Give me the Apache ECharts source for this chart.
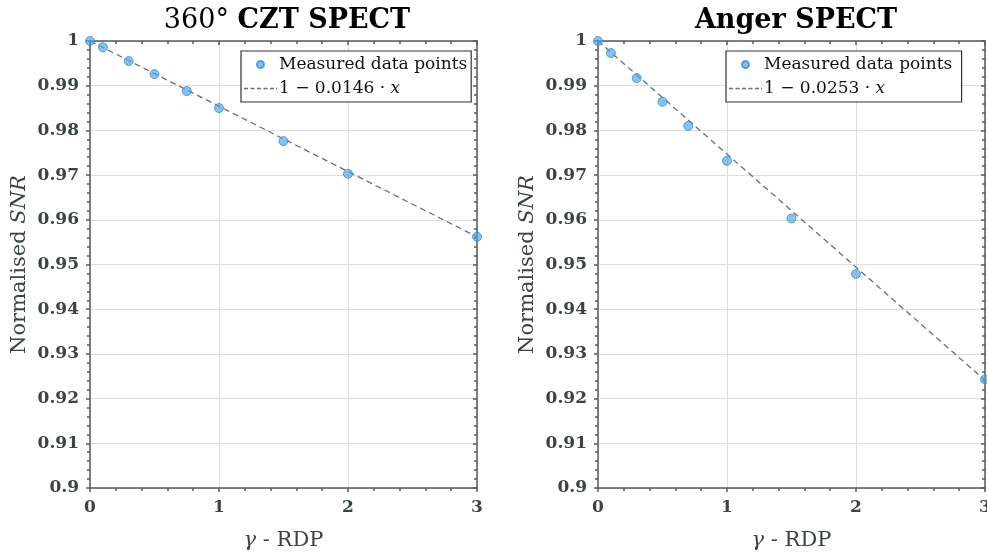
<!DOCTYPE html>
<html><head><meta charset="utf-8">
<script src="https://cdn.jsdelivr.net/npm/echarts@6/dist/echarts.min.js"></script>
<style>html,body{margin:0;padding:0;background:#fff}#c{width:987px;height:558px}</style>
</head><body><div id="c"></div>
<script>
var czt_x = [0, 0.1, 0.3, 0.5, 0.75, 1, 1.5, 2, 3];
var czt_y = [1.0, 0.9986, 0.9955, 0.9926, 0.9888, 0.9850, 0.9776, 0.9703, 0.9562];
var czt_slope = 0.0146;
var anger_x = [0, 0.1, 0.3, 0.5, 0.7, 1, 1.5, 2, 3];
var anger_y = [1.0, 0.9973, 0.9917, 0.9864, 0.9810, 0.9732, 0.9603, 0.9479, 0.9243];
var anger_slope = 0.0253;
var xTicks = [0, 1, 2, 3];
var yTicks = [0.9, 0.91, 0.92, 0.93, 0.94, 0.95, 0.96, 0.97, 0.98, 0.99, 1];

var FONT = 'DejaVu Serif';
var TXT = '#3b4343';
var AX = '#555a5a';
var grids = [
  {left: 90, width: 387, top: 41, bottom: 70, outerBoundsMode: 'none', containLabel: false},
  {left: 598, width: 387, top: 41, bottom: 70, outerBoundsMode: 'none', containLabel: false}
];
function fmtY(v){ return String(+v.toFixed(2)); }
function xAxisDef(gi, pos, main){
  return {
    type: 'value', gridIndex: gi, position: pos, min: 0, max: 3, interval: 1,
    name: main ? '{g|γ} - RDP' : '', nameLocation: 'middle', nameGap: 42,
    nameTextStyle: {fontFamily: FONT, fontSize: 21, color: TXT, rich: {g: {fontFamily: FONT, fontSize: 21, fontStyle: 'italic', color: TXT}}},
    axisLine: {show: true, onZero: false, lineStyle: {color: AX, width: 1.5}},
    axisTick: {show: true, length: 4, inside: !main, lineStyle: {color: AX, width: 1.5}},
    minorTick: {show: true, splitNumber: 5, length: 3, lineStyle: {color: AX, width: 1.5}},
    axisLabel: {show: main, fontFamily: FONT, fontWeight: 'bold', fontSize: 17, color: TXT, margin: 11,
      formatter: function(v){ return xTicks.indexOf(v) >= 0 ? String(v) : ''; }},
    splitLine: {show: main, lineStyle: {color: '#dedede', width: 1}},
    minorSplitLine: {show: false}
  };
}
function yAxisDef(gi, pos, main){
  return {
    type: 'value', gridIndex: gi, position: pos, min: 0.9, max: 1, interval: 0.01,
    name: main ? 'Normalised {i|SNR}' : '', nameLocation: 'middle', nameGap: 60,
    nameTextStyle: {fontFamily: FONT, fontSize: 21, color: TXT, rich: {i: {fontFamily: FONT, fontSize: 21, fontStyle: 'italic', color: TXT}}},
    axisLine: {show: true, onZero: false, lineStyle: {color: AX, width: 1.5}},
    axisTick: {show: true, length: 4, inside: !main, lineStyle: {color: AX, width: 1.5}},
    minorTick: {show: true, splitNumber: 5, length: 3, lineStyle: {color: AX, width: 1.5}},
    axisLabel: {show: main, fontFamily: FONT, fontWeight: 'bold', fontSize: 17, color: TXT, margin: 11,
      formatter: function(v){ return fmtY(v); }},
    splitLine: {show: main, lineStyle: {color: '#dedede', width: 1}},
    minorSplitLine: {show: false}
  };
}
function pairs(xs, ys){ return xs.map(function(x, i){ return [x, ys[i]]; }); }
function fitLine(slope){ return [[0, 1], [3, 1 - slope * 3]]; }
var scatterStyle = {color: 'rgba(77,166,229,0.85)', borderColor: '#3a8fd6', borderWidth: 1};
var lineStyle = {color: '#647080', width: 1.3, type: [6, 4]};
var labelFit = function(s){ return '1 − ' + s.toFixed(4) + ' · {i|x}'; };
var dashIcon = 'path://M0,0L0,0M33,10L33,10M0,4.3h4v1.4h-4zM6.5,4.3h4v1.4h-4zM13,4.3h4v1.4h-4zM19.5,4.3h4v1.4h-4zM26,4.3h4v1.4h-4zM32,4.3h1v1.4h-1z';
var dotIcon = 'path://M0,0L0,0M33,10L33,10M13,5a3.5,3.5 0 1,0 7,0a3.5,3.5 0 1,0 -7,0z';

var chart = echarts.init(document.getElementById('c'), null, {renderer: 'canvas'});
var legendBase = {
  orient: 'vertical', top: 51, borderColor: '#333', borderWidth: 1.2, backgroundColor: '#fff',
  padding: [5, 4, 5, 2], itemGap: 7, itemWidth: 33, itemHeight: 10,
  textStyle: {fontFamily: FONT, fontSize: 17, color: '#111', padding: [0, 0, 0, -3], rich: {i: {fontFamily: FONT, fontSize: 17, fontStyle: 'italic', color: '#111'}}}
};
var opt = {
  animation: false,
  title: [
    {text: '360° {b|CZT SPECT}', left: 282, top: 2, textAlign: 'center',
      textStyle: {fontFamily: FONT, fontSize: 27, fontWeight: 'normal', color: '#000', rich: {b: {fontFamily: FONT, fontSize: 27, fontWeight: 'bold', color: '#000'}}}},
    {text: 'Anger SPECT', left: 791, top: 2, textAlign: 'center',
      textStyle: {fontFamily: FONT, fontSize: 27, fontWeight: 'bold', color: '#000'}}
  ],
  legend: [
    Object.assign({}, legendBase, {left: 241, data: [{name: 'Measured data points', icon: dotIcon}, {name: 'fitA', icon: dashIcon}],
      formatter: function(n){ return n === 'fitA' ? labelFit(czt_slope) : n; }}),
    Object.assign({}, legendBase, {left: 726, data: [{name: 'Measured data points ', icon: dotIcon}, {name: 'fitB', icon: dashIcon}],
      formatter: function(n){ return n === 'fitB' ? labelFit(anger_slope) : n; }})
  ],
  grid: grids,
  xAxis: [xAxisDef(0, 'bottom', true), xAxisDef(0, 'top', false), xAxisDef(1, 'bottom', true), xAxisDef(1, 'top', false)],
  yAxis: [yAxisDef(0, 'left', true), yAxisDef(0, 'right', false), yAxisDef(1, 'left', true), yAxisDef(1, 'right', false)],
  series: [
    {name: 'fitA', type: 'line', xAxisIndex: 0, yAxisIndex: 0, data: fitLine(czt_slope), symbol: 'none', lineStyle: lineStyle, itemStyle: {color: '#647080'}, z: 2},
    {name: 'Measured data points', type: 'scatter', xAxisIndex: 0, yAxisIndex: 0, data: pairs(czt_x, czt_y), symbolSize: 9, itemStyle: scatterStyle, z: 3, clip: false},
    {name: 'fitB', type: 'line', xAxisIndex: 2, yAxisIndex: 2, data: fitLine(anger_slope), symbol: 'none', lineStyle: lineStyle, itemStyle: {color: '#647080'}, z: 2},
    {name: 'Measured data points ', type: 'scatter', xAxisIndex: 2, yAxisIndex: 2, data: pairs(anger_x, anger_y), symbolSize: 9, itemStyle: scatterStyle, z: 3, clip: false}
  ]
};
chart.setOption(opt);
</script></body></html>
